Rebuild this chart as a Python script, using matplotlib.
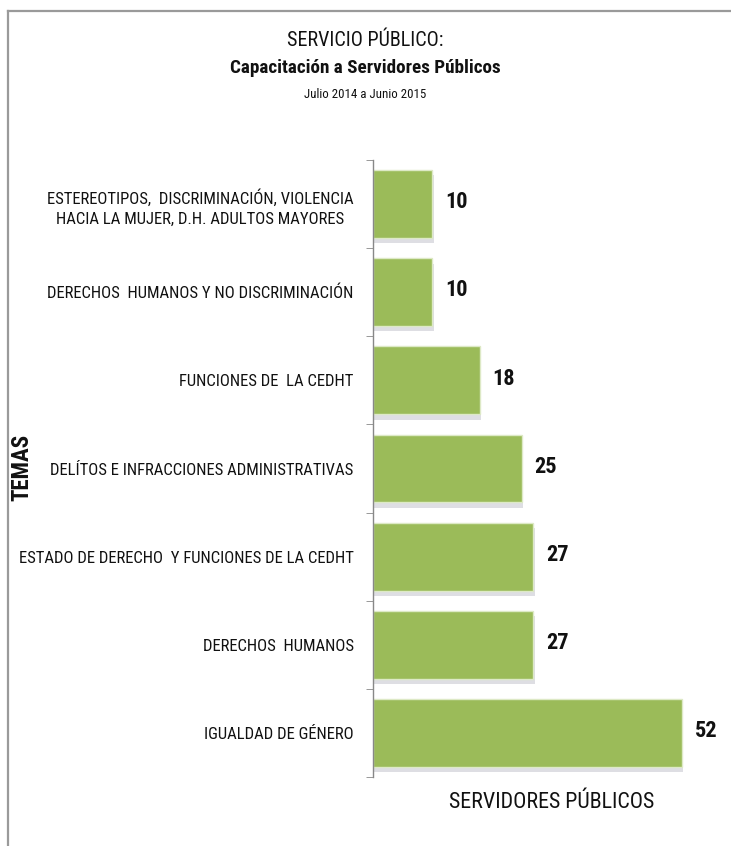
import matplotlib
matplotlib.use("Agg")
import matplotlib.pyplot as plt
from matplotlib import font_manager as fm
from matplotlib.lines import Line2D
import numpy as np

# ---- data ----
temas = [
    "ESTEREOTIPOS,  DISCRIMINACIÓN, VIOLENCIA\nHACIA LA MUJER, D.H. ADULTOS MAYORES",
    "DERECHOS  HUMANOS Y NO DISCRIMINACIÓN",
    "FUNCIONES DE  LA CEDHT",
    "DELÍTOS E INFRACCIONES ADMINISTRATIVAS",
    "ESTADO DE DERECHO  Y FUNCIONES DE LA CEDHT",
    "DERECHOS  HUMANOS",
    "IGUALDAD DE GÉNERO",
]
servidores = [10, 10, 18, 25, 27, 27, 52]

title1 = "SERVICIO PÚBLICO:"
title2 = "Capacitación a Servidores Públicos"
title3 = "Julio 2014 a Junio 2015"
xlabel = "SERVIDORES PÚBLICOS"
ylabel = "TEMAS"

# ---- font choice ----
names = {f.name for f in fm.fontManager.ttflist}
font = "DejaVu Sans"
for cand in ["Liberation Sans Narrow", "Roboto Condensed", "Open Sans Condensed", "Lato"]:
    if cand in names:
        font = cand
        break
plt.rcParams["font.family"] = [font, "DejaVu Sans"]

W, H = 731, 846
fig = plt.figure(figsize=(W / 100, H / 100), dpi=100)
fig.patch.set_facecolor("white")

# outer frame lines
fig.add_artist(Line2D([8 / W, 8 / W], [0, 1 - 11 / H], transform=fig.transFigure,
                      color="#9a9a9a", lw=1.6))
fig.add_artist(Line2D([8 / W, 1], [1 - 11 / H, 1 - 11 / H], transform=fig.transFigure,
                      color="#9a9a9a", lw=1.6))

left, top, bottom = 373, 160, 777
xmax = 60
px_per_unit = (682 - 373) / 52
right = left + xmax * px_per_unit
ax = fig.add_axes([left / W, 1 - bottom / H, (right - left) / W, (bottom - top) / H])

n = len(temas)
ypos = np.arange(n)[::-1]  # first item at top
bh = 0.77

# shadows
ax.barh(ypos - 0.06, servidores, height=bh, left=0.2, color="#c4c4cc", alpha=0.55,
        zorder=1, edgecolor="none")
ax.barh(ypos, servidores, height=bh, color="#9BBB59", edgecolor="#dde9c6", linewidth=1.0,
        zorder=2)

for y, v in zip(ypos, servidores):
    ax.text(v + 2.1, y + 0.02, str(v), va="center", ha="left", fontsize=16,
            fontweight="bold", color="#111111")

ax.set_xlim(0, xmax)
ax.set_ylim(-0.5, n - 0.5)
ax.set_yticks(ypos)
ax.set_yticklabels(temas, fontsize=12, color="#111111", linespacing=1.45)
ax.tick_params(axis="y", which="major", length=0, pad=14)
ax.set_yticks(np.arange(-0.5, n, 1.0), minor=True)
ax.tick_params(axis="y", which="minor", length=5, color="#888888", direction="out")
ax.set_xticks([])
for s in ["top", "right", "bottom"]:
    ax.spines[s].set_visible(False)
ax.spines["left"].set_color("#888888")
ax.spines["left"].set_linewidth(1.0)
for lbl in ax.get_yticklabels():
    lbl.set_horizontalalignment("right")
    lbl.set_multialignment("center")

# titles
fig.text(365 / W, 1 - 41 / H, title1, ha="center", va="center", fontsize=14.5, color="#111111")
fig.text(365 / W, 1 - 68 / H, title2, ha="center", va="center", fontsize=13.8,
         fontweight="bold", color="#111111")
fig.text(365 / W, 1 - 94 / H, title3, ha="center", va="center", fontsize=9.3, color="#111111")

fig.text(552 / W, 1 - 802 / H, xlabel, ha="center", va="center", fontsize=15.8, color="#111111")
fig.text(22 / W, 1 - 467 / H, ylabel, ha="center", va="center", fontsize=16.5,
         fontweight="bold", rotation=90, color="#111111")

fig.savefig("out.png", dpi=100, facecolor="white")
